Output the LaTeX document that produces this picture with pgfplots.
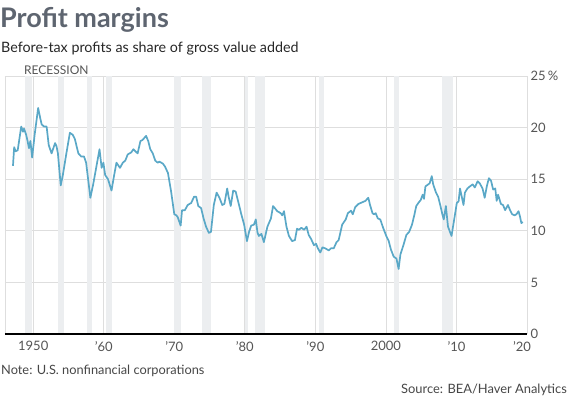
\documentclass[border=0pt]{standalone}
\usepackage{fontspec}
\setmainfont{Lato}
\usepackage{pgfplots}
\pgfplotsset{compat=1.18}
\usetikzlibrary{calc}
\definecolor{linec}{RGB}{90,168,199}
\definecolor{bandc}{RGB}{236,238,240}
\definecolor{gridc}{RGB}{222,222,222}
\definecolor{titlec}{RGB}{94,101,112}
\definecolor{tickc}{RGB}{85,85,85}
\definecolor{notec}{RGB}{70,70,70}
\begin{document}
\begin{tikzpicture}[x=1pt,y=1pt]
\begin{axis}[scale only axis,
  width=522pt, height=258pt,
  xmin=1946, xmax=2020, ymin=0, ymax=25,
  axis line style={draw=none},
  xtick={1950,1960,1970,1980,1990,2000,2010,2020},
  xticklabels={1950,’60,’70,’80,’90,2000,’10,\hspace*{-10pt}’20},
  ytick={0,5,10,15,20,25},
  yticklabels={0,5,10,15,20,25\,\%},
  yticklabel pos=right,
  major tick length=0pt,
  xmajorgrids, ymajorgrids,
  grid style={gridc, line width=0.8pt},
  tick label style={text=tickc, font=\fontsize{13}{13}\selectfont},
  xticklabel style={yshift=-4pt},
  /pgf/number format/assume math mode=true,
  clip=false]
\addplot[fill=bandc, draw=none] coordinates {(1948.9,25) (1949.8,25)} \closedcycle;
\addplot[fill=bandc, draw=none] coordinates {(1953.5,25) (1954.4,25)} \closedcycle;
\addplot[fill=bandc, draw=none] coordinates {(1957.6,25) (1958.3,25)} \closedcycle;
\addplot[fill=bandc, draw=none] coordinates {(1960.3,25) (1961.1,25)} \closedcycle;
\addplot[fill=bandc, draw=none] coordinates {(1969.9,25) (1970.9,25)} \closedcycle;
\addplot[fill=bandc, draw=none] coordinates {(1973.9,25) (1975.2,25)} \closedcycle;
\addplot[fill=bandc, draw=none] coordinates {(1980.0,25) (1980.5,25)} \closedcycle;
\addplot[fill=bandc, draw=none] coordinates {(1981.5,25) (1982.9,25)} \closedcycle;
\addplot[fill=bandc, draw=none] coordinates {(1990.5,25) (1991.2,25)} \closedcycle;
\addplot[fill=bandc, draw=none] coordinates {(2001.2,25) (2001.9,25)} \closedcycle;
\addplot[fill=bandc, draw=none] coordinates {(2007.9,25) (2009.5,25)} \closedcycle;
\addplot[gridc, line width=0.8pt] coordinates {(1946,0) (1946,25)};
\addplot[linec, line width=1.7pt, line join=round] table {
1947.13 16.3
1947.3 18.1
1947.5 17.7
1947.8 17.8
1948.3 20.1
1948.55 19.6
1948.7 19.9
1949.0 19.3
1949.2 18.7
1949.4 18.0
1949.6 18.7
1949.85 17.1
1950.2 19.3
1950.7 21.9
1951.0 20.9
1951.2 20.3
1951.55 20.1
1951.9 20.1
1952.2 18.3
1952.6 17.5
1953.1 18.5
1953.3 18.2
1953.5 17.5
1953.9 14.4
1954.2 15.4
1954.7 17.5
1955.2 19.5
1955.6 19.3
1955.9 18.9
1956.4 17.5
1956.8 17.2
1957.2 17.2
1957.5 16.6
1958.1 13.2
1958.5 14.5
1958.95 16.2
1959.4 17.9
1959.7 16.1
1959.95 16.6
1960.2 15.4
1960.6 15.0
1961.1 13.9
1961.45 15.3
1961.8 16.6
1962.3 16.1
1962.7 16.6
1963.05 16.8
1963.4 17.4
1963.9 17.6
1964.2 17.9
1964.5 17.7
1964.8 17.5
1965.2 18.7
1965.5 18.8
1966.0 19.2
1966.3 18.7
1966.6 17.9
1966.95 17.5
1967.3 16.8
1967.65 16.6
1967.9 16.7
1968.4 16.5
1968.7 16.2
1969.1 15.6
1969.55 13.8
1970.0 11.6
1970.3 11.5
1970.5 11.3
1970.9 10.5
1971.1 12.0
1971.5 12.0
1971.9 12.5
1972.4 12.7
1972.8 13.3
1973.1 13.3
1973.4 12.4
1973.8 12.2
1974.15 11.2
1974.5 10.4
1974.9 9.8
1975.2 9.9
1975.6 12.5
1976.0 13.7
1976.4 13.2
1976.8 12.5
1977.1 12.6
1977.5 14.1
1977.7 13.3
1978.0 12.4
1978.35 13.9
1978.7 13.8
1979.05 12.85
1979.5 11.6
1979.9 10.6
1980.3 9.0
1980.6 9.9
1980.9 10.5
1981.3 10.6
1981.55 11.1
1981.8 9.8
1982.0 9.5
1982.35 9.7
1982.7 8.9
1983.2 10.4
1983.7 11.2
1984.0 12.4
1984.6 11.9
1985.1 11.7
1985.3 11.5
1985.55 11.9
1985.9 10.4
1986.25 9.5
1986.7 9.0
1987.1 9.1
1987.4 10.2
1987.7 10.1
1988.0 10.3
1988.4 10.1
1988.75 10.4
1989.05 9.6
1989.4 9.2
1989.8 8.6
1990.1 8.75
1990.35 8.3
1990.7 7.9
1991.0 8.4
1991.4 8.3
1991.9 8.1
1992.2 8.3
1992.6 8.3
1993.0 8.9
1993.3 9.1
1993.8 10.6
1994.3 11.1
1994.6 11.7
1995.05 11.95
1995.3 11.6
1995.65 12.3
1996.1 12.6
1996.6 12.75
1997.1 12.9
1997.5 13.2
1997.75 12.5
1998.1 11.7
1998.3 11.6
1998.55 11.7
1998.85 11.2
1999.2 11.1
1999.6 10.3
2000.05 9.5
2000.4 9.0
2000.7 8.2
2001.1 7.5
2001.5 7.3
2001.8 6.3
2002.05 7.7
2002.5 8.65
2002.9 9.6
2003.3 9.9
2003.7 10.6
2004.05 11.6
2004.3 12.4
2004.6 12.7
2004.95 13.0
2005.2 13.5
2005.4 13.1
2005.6 14.3
2006.0 14.5
2006.2 14.6
2006.5 15.3
2006.7 14.5
2007.1 13.7
2007.4 13.3
2007.7 12.5
2008.0 11.6
2008.2 11.1
2008.5 12.4
2008.8 10.4
2009.3 9.5
2009.7 11.2
2010.05 12.7
2010.3 12.85
2010.5 14.1
2010.75 13.3
2011.0 12.5
2011.2 13.7
2011.55 14.1
2011.9 14.3
2012.3 14.5
2012.6 14.2
2013.0 14.8
2013.3 14.6
2013.7 14.1
2014.0 13.2
2014.3 14.3
2014.6 15.1
2014.9 14.85
2015.2 14.0
2015.5 14.1
2015.7 12.9
2015.9 13.5
2016.3 12.6
2016.6 12.5
2016.9 12.0
2017.3 12.5
2017.6 12.0
2017.9 11.6
2018.25 11.5
2018.5 11.6
2018.8 11.9
2019.0 11.4
2019.2 10.75
2019.4 10.85
};
\draw[black, line width=1.2pt] (rel axis cs:0,0) -- (rel axis cs:1,0);
\coordinate (axsw) at (rel axis cs:0,0);
\end{axis}
\pgfresetboundingbox
\begin{scope}[shift={($(axsw)+(-5,-64)$)}]
\path[use as bounding box] (0,0) rectangle (569,398);
\node[anchor=base west, inner sep=0, text=titlec] at (0,370.7) {\fontsize{27}{27}\selectfont\bfseries Profit margins};
\node[anchor=base west, inner sep=0, text=black!85] at (1,345.5) {\fontsize{14.3}{14.3}\selectfont Before-tax profits as share of gross value added};
\node[anchor=base west, inner sep=0, text=tickc] at (24,323) {\fontsize{12}{12}\selectfont RECESSION};
\node[anchor=base west, inner sep=0, text=notec] at (1,23) {\fontsize{12.8}{12.8}\selectfont Note: U.S. nonfinancial corporations};
\node[anchor=base east, inner sep=0, text=notec] at (567,5) {\fontsize{12.9}{12.9}\selectfont Source: BEA/Haver Analytics};
\end{scope}
\end{tikzpicture}
\end{document}
